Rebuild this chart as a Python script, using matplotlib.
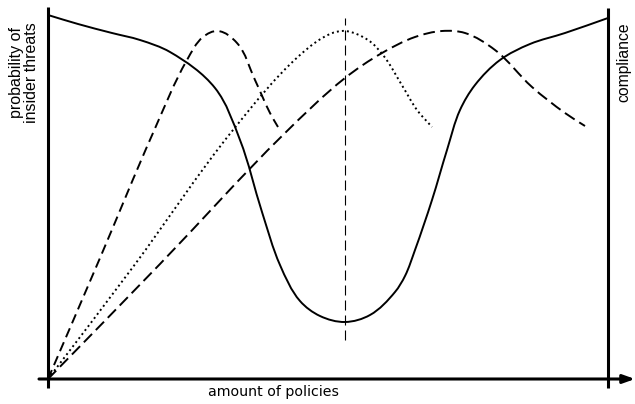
import numpy as np
import matplotlib
matplotlib.use("Agg")
import matplotlib.pyplot as plt
from matplotlib.path import Path
from matplotlib.patches import PathPatch

# Conceptual curves (x: amount of policies, y: level), arbitrary units
risk_x = [0, 30, 64, 92, 122, 167, 192, 214, 232, 252, 272, 297,
          322, 347, 357, 367, 384, 399, 412, 427, 452, 482, 517, 560]
risk_y = [364, 355, 346, 339, 327, 291, 239, 167, 114, 78, 63, 57,
          64, 87, 103, 129, 179, 229, 269, 294, 319, 335, 346, 361]

comp_a_x = [0, 52, 105, 139, 155, 170, 189, 207, 222, 230]
comp_a_y = [0, 121, 246, 319, 342, 348, 336, 299, 266, 252]

comp_b_x = [0, 85, 185, 252, 282, 297, 320, 335, 355, 369, 384]
comp_b_y = [0, 112, 249, 324, 345, 348, 339, 324, 292, 269, 252]

comp_c_x = [0, 112, 235, 297, 334, 367, 394, 417, 447, 484, 517, 537]
comp_c_y = [0, 115, 244, 301, 326, 342, 348, 346, 329, 292, 266, 253]

optimum_x = 297
optimum_y = [39, 361]

x_label = "amount of policies"
left_label = "probability of\ninsider threats"
right_label = "compliance"


def smooth_path(xs, ys):
    pts = np.column_stack([xs, ys]).astype(float)
    n = len(pts)
    seg = pts[1:] - pts[:-1]
    seglen = np.hypot(seg[:, 0], seg[:, 1])
    unit = seg / seglen[:, None]
    tang = np.zeros_like(pts)
    tang[0] = unit[0]
    tang[-1] = unit[-1]
    for i in range(1, n - 1):
        t = unit[i - 1] + unit[i]
        tang[i] = t / np.hypot(*t)
    verts = [pts[0]]
    codes = [Path.MOVETO]
    for i in range(n - 1):
        L = seglen[i] / 3.0
        verts += [pts[i] + tang[i] * L, pts[i + 1] - tang[i + 1] * L, pts[i + 1]]
        codes += [Path.CURVE4] * 3
    return Path(np.array(verts), codes)


fig = plt.figure(figsize=(6.35, 4.04), dpi=100)
ax = fig.add_axes([48 / 635, (404 - 379) / 404, 560 / 635, 364 / 404])
ax.set_xlim(0, 560)
ax.set_ylim(0, 364)
ax.axis("off")

def add_curve(xs, ys, lw, ls):
    p = PathPatch(smooth_path(xs, ys), fill=False, edgecolor="black",
                  linewidth=lw, linestyle=ls, capstyle="butt", clip_on=False)
    ax.add_patch(p)

add_curve(risk_x, risk_y, 1.4, "-")
add_curve(comp_a_x, comp_a_y, 1.4, (0, (5.0, 2.8)))
add_curve(comp_b_x, comp_b_y, 1.4, (0, (1.0, 1.6)))
add_curve(comp_c_x, comp_c_y, 1.4, (0, (6.0, 2.8)))

ax.plot([optimum_x, optimum_x], optimum_y, color="black", lw=0.8,
        linestyle=(0, (9, 4.5)), clip_on=False)

# axes frame lines
ax.plot([0, 0], [-9, 372], color="black", lw=2.2, clip_on=False, solid_capstyle="butt")
ax.plot([560, 560], [-9, 371], color="black", lw=2.2, clip_on=False, solid_capstyle="butt")
ax.annotate("", xy=(587, 0), xytext=(-9, 0), xycoords="data",
            arrowprops=dict(arrowstyle="-|>,head_length=0.7,head_width=0.25",
                            color="black", lw=2.2, shrinkA=0, shrinkB=0),
            annotation_clip=False)

fig.text(24 / 635, 1 - 73 / 404, left_label, rotation=90, ha="center", va="center",
         fontsize=11.5, family="Liberation Sans", linespacing=1.0)
fig.text(624 / 635, 1 - 62 / 404, right_label, rotation=90, ha="center", va="center",
         fontsize=11.3, family="Liberation Sans")
fig.text(273 / 635, 1 - 392 / 404, x_label, ha="center", va="center",
         fontsize=10.2, family="DejaVu Sans")

fig.savefig("out.png", dpi=100)
